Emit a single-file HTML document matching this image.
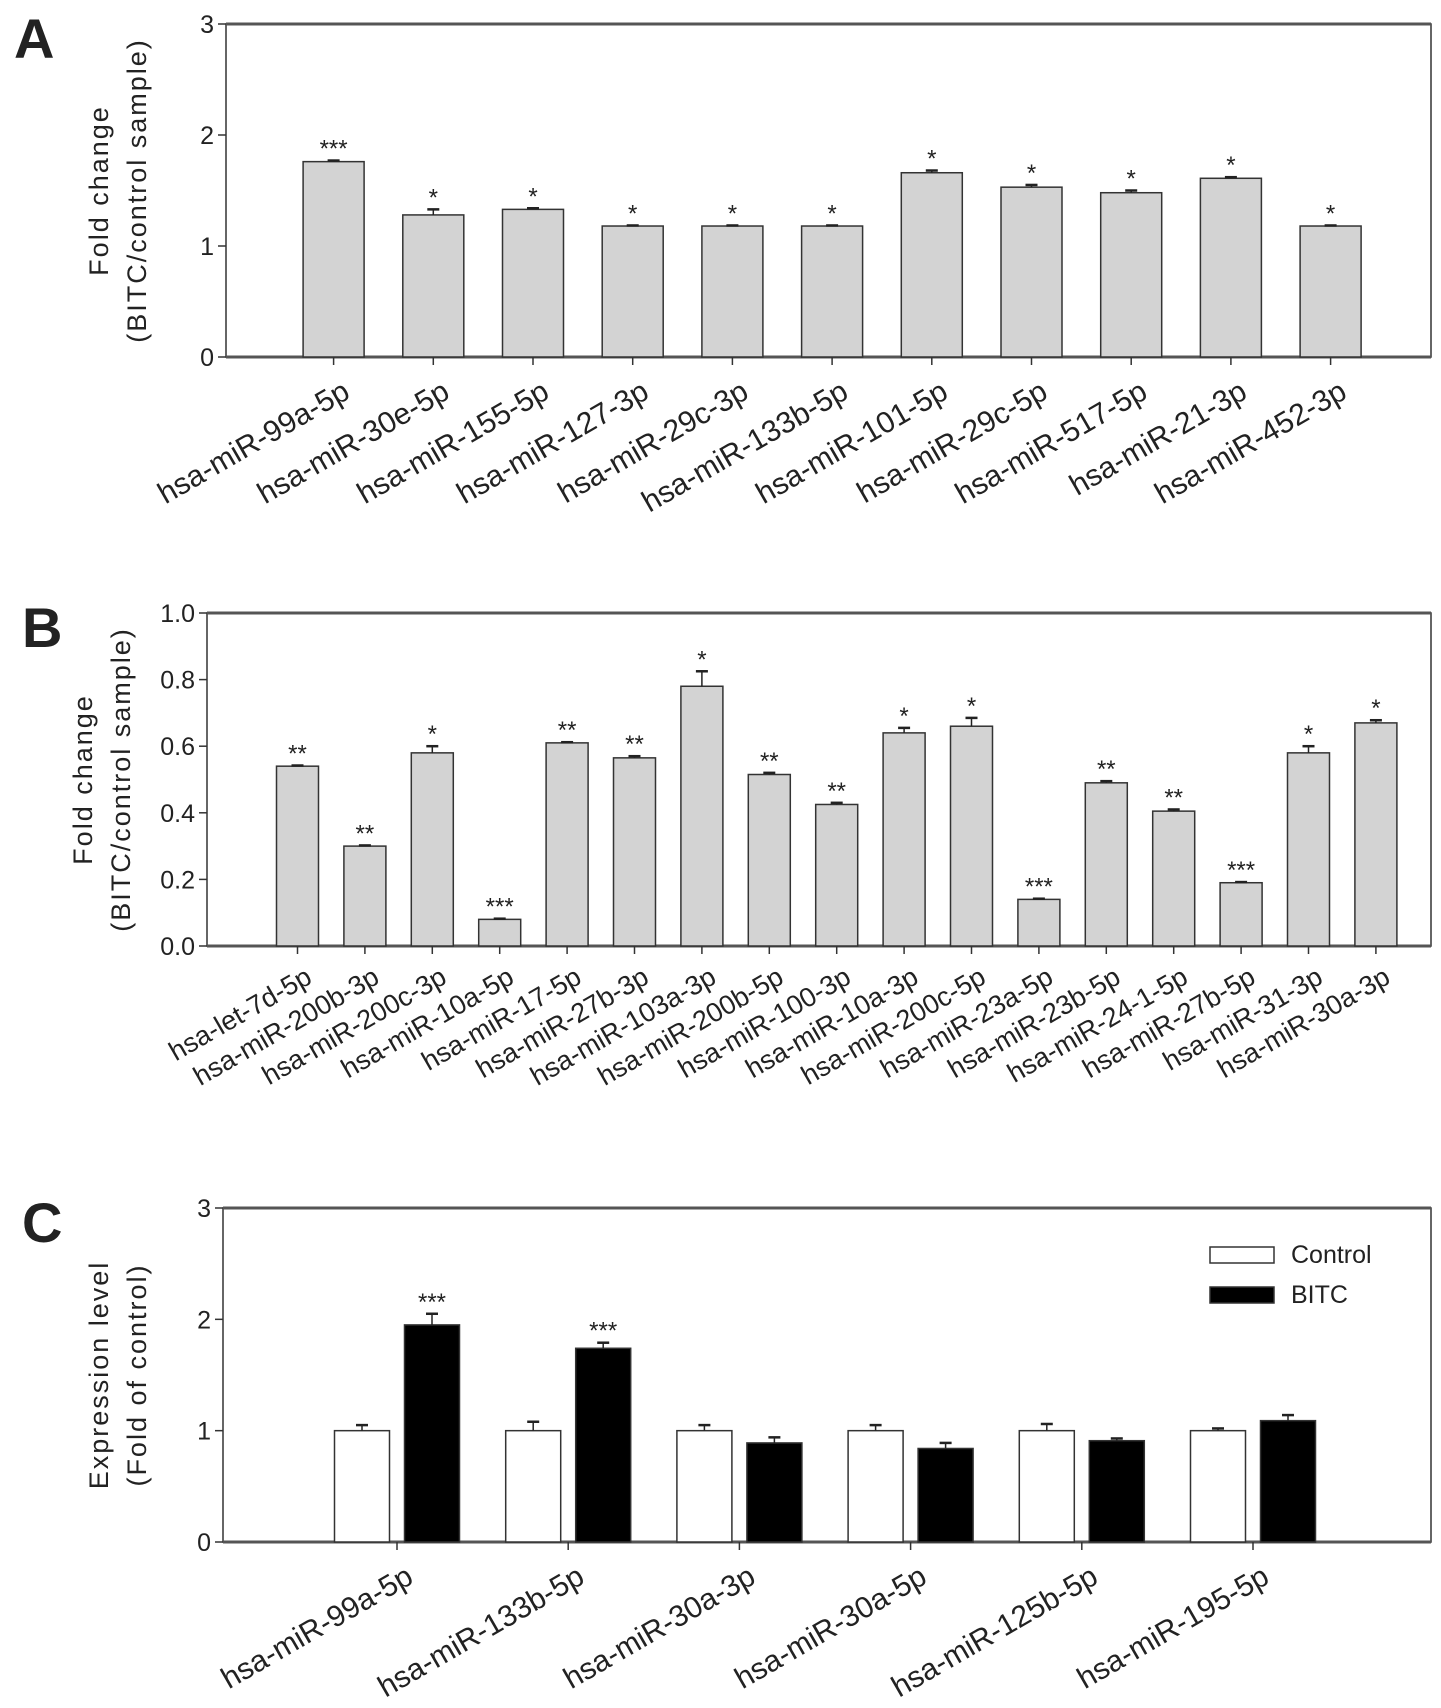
<!DOCTYPE html>
<html><head><meta charset="utf-8"><style>
body{margin:0;background:#fff;}
svg text{font-family:"Liberation Sans",Arial,sans-serif;fill:#222;}
</style></head><body>
<svg id="fig" width="1441" height="1703" xmlns="http://www.w3.org/2000/svg"></svg>
<script>
const catsA=["hsa-miR-99a-5p","hsa-miR-30e-5p","hsa-miR-155-5p","hsa-miR-127-3p","hsa-miR-29c-3p","hsa-miR-133b-5p","hsa-miR-101-5p","hsa-miR-29c-5p","hsa-miR-517-5p","hsa-miR-21-3p","hsa-miR-452-3p"];
const valsA=[1.76,1.28,1.33,1.18,1.18,1.18,1.66,1.53,1.48,1.61,1.18];
const errA=[0.01,0.05,0.01,0.005,0.005,0.005,0.02,0.02,0.02,0.01,0.005];
const starsA=["***","*","*","*","*","*","*","*","*","*","*"];
const ticksA=[0,1,2,3];
const catsB=["hsa-let-7d-5p","hsa-miR-200b-3p","hsa-miR-200c-3p","hsa-miR-10a-5p","hsa-miR-17-5p","hsa-miR-27b-3p","hsa-miR-103a-3p","hsa-miR-200b-5p","hsa-miR-100-3p","hsa-miR-10a-3p","hsa-miR-200c-5p","hsa-miR-23a-5p","hsa-miR-23b-5p","hsa-miR-24-1-5p","hsa-miR-27b-5p","hsa-miR-31-3p","hsa-miR-30a-3p"];
const valsB=[0.54,0.30,0.58,0.08,0.61,0.565,0.78,0.515,0.425,0.64,0.66,0.14,0.49,0.405,0.19,0.58,0.67];
const errB=[0.002,0.002,0.02,0.002,0.002,0.005,0.045,0.005,0.005,0.015,0.025,0.002,0.005,0.005,0.002,0.02,0.008];
const starsB=["**","**","*","***","**","**","*","**","**","*","*","***","**","**","***","*","*"];
const ticksB=["0.0","0.2","0.4","0.6","0.8","1.0"];
const catsC=["hsa-miR-99a-5p","hsa-miR-133b-5p","hsa-miR-30a-3p","hsa-miR-30a-5p","hsa-miR-125b-5p","hsa-miR-195-5p"];
const ctrlC=[1,1,1,1,1,1];
const ctrlErrC=[0.05,0.08,0.05,0.05,0.06,0.02];
const bitcC=[1.95,1.74,0.89,0.84,0.91,1.09];
const bitcErrC=[0.1,0.05,0.05,0.05,0.02,0.05];
const starsC=["***","***","","","",""];
const ticksC=[0,1,2,3];

const svg=document.getElementById('fig');
const NS="http://www.w3.org/2000/svg";
function mk(tag,attrs,parent){const e=document.createElementNS(NS,tag);for(const k in attrs)e.setAttribute(k,attrs[k]);(parent||svg).appendChild(e);return e;}

function panel(o){
  const g=mk('g',{});
  
  
  const y=v=>o.y1-(v-o.ymin)/(o.ymax-o.ymin)*(o.y1-o.y0);
  const L=mk('text',{x:o.letterX,y:o.y0+34,'font-size':56,'font-weight':'bold'},g);L.textContent=o.letter;
  
  
  const f=mk('rect',{x:o.x0,y:o.y0,width:o.x1-o.x0,height:o.y1-o.y0,fill:'none',stroke:'#333','stroke-width':1.5},g);
  
  
  mk('line',{x1:o.x0,x2:o.x1,y1:o.y0,y2:o.y0,stroke:'#555','stroke-width':3},g);
  mk('line',{x1:o.x0,x2:o.x1,y1:o.y1,y2:o.y1,stroke:'#555','stroke-width':3},g);
  o.ticks.forEach(t=>{const v=parseFloat(t);const yy=y(v);
    mk('line',{x1:o.x0-8,x2:o.x0,y1:yy,y2:yy,stroke:'#333','stroke-width':1.5},g);
    const tx=mk('text',{x:o.x0-12,y:yy+9,'font-size':25,'text-anchor':'end'},g);tx.textContent=t;
    
    
  });
  o.ytitle.forEach((s,i)=>{const cx=o.ytx+i*38,cy=(o.y0+o.y1)/2;
    const t=mk('text',{x:cx,y:cy,'font-size':27,'text-anchor':'middle','letter-spacing':'2',transform:`rotate(-90 ${cx} ${cy})`},g);t.textContent=s;
    
    
  });
  return {g,y};
}
function errbar(g,cx,top,e,y){const ty=y(e);mk('line',{x1:cx,x2:cx,y1:top,y2:ty,stroke:'#222','stroke-width':1.5},g);mk('line',{x1:cx-6,x2:cx+6,y1:ty,y2:ty,stroke:'#222','stroke-width':2.5},g);}
function xlabel(g,x,yb,s,fs){const t=mk('text',{x:x,y:yb,'font-size':fs,'text-anchor':'end',transform:`rotate(-30 ${x} ${yb})`},g);t.textContent=s;
  
  }
function star(g,x,yy,s){const t=mk('text',{x:x,y:yy,'font-size':24,'text-anchor':'middle',fill:'#444'},g);t.textContent=s;
  
  }

(function(){
  const o={name:'panel-a',letter:'A',letterX:14,x0:226,x1:1431,y0:24,y1:357,ymin:0,ymax:3,ticks:ticksA.map(String),ytitle:['Fold change','(BITC/control sample)'],ytx:108};
  const {g,y}=panel(o);
  const step=99.7,first=333.6,w=61;
  catsA.forEach((c,i)=>{const cx=first+i*step,top=y(valsA[i]);
    const r=mk('rect',{x:cx-w/2,y:top,width:w,height:y(0)-top,fill:'#d3d3d3',stroke:'#333','stroke-width':1.5},g);
    
    
    errbar(g,cx,top,valsA[i]+errA[i],y);
    star(g,cx,y(valsA[i]+errA[i])-4,starsA[i]);
    mk('line',{x1:cx,x2:cx,y1:o.y1,y2:o.y1+8,stroke:'#333','stroke-width':1.5},g);
    xlabel(g,cx+18,o.y1+40,c,30);
  });
})();
(function(){
  const o={name:'panel-b',letter:'B',letterX:22,x0:207,x1:1431,y0:613,y1:946,ymin:0,ymax:1,ticks:ticksB,ytitle:['Fold change','(BITC/control sample)'],ytx:92};
  const {g,y}=panel(o);
  const step=67.4,first=297.5,w=42;
  catsB.forEach((c,i)=>{const cx=first+i*step,top=y(valsB[i]);
    const r=mk('rect',{x:cx-w/2,y:top,width:w,height:y(0)-top,fill:'#d3d3d3',stroke:'#333','stroke-width':1.5},g);
    
    
    errbar(g,cx,top,valsB[i]+errB[i],y);
    star(g,cx,y(valsB[i]+errB[i])-4,starsB[i]);
    mk('line',{x1:cx,x2:cx,y1:o.y1,y2:o.y1+8,stroke:'#333','stroke-width':1.5},g);
    xlabel(g,cx+16,o.y1+36,c,27);
  });
})();
(function(){
  const o={name:'panel-c',letter:'C',letterX:22,x0:223,x1:1431,y0:1208,y1:1542,ymin:0,ymax:3,ticks:ticksC.map(String),ytitle:['Expression level','(Fold of control)'],ytx:108};
  const {g,y}=panel(o);
  const step=171.2,first=397,w=55,off=35;
  catsC.forEach((c,i)=>{const gx=first+i*step;
    [[ctrlC,ctrlErrC,'#fff',-off,'control'],[bitcC,bitcErrC,'#000',off,'bitc']].forEach(([v,e,fill,dx,nm])=>{
      const cx=gx+dx,top=y(v[i]);
      const r=mk('rect',{x:cx-w/2,y:top,width:w,height:y(0)-top,fill:fill,stroke:'#333','stroke-width':1.5},g);
      
      
      errbar(g,cx,top,v[i]+e[i],y);
    });
    if(starsC[i])star(g,gx+off,y(bitcC[i]+bitcErrC[i])-4,starsC[i]);
    mk('line',{x1:gx,x2:gx,y1:o.y1,y2:o.y1+8,stroke:'#333','stroke-width':1.5},g);
    xlabel(g,gx+18,o.y1+40,c,30);
  });
  const lg=mk('g',{},g);
  
  
  [['Control','#fff',1247],['BITC','#000',1287]].forEach(([t,f,yy])=>{
    mk('rect',{x:1210,y:yy,width:64,height:16,fill:f,stroke:'#333','stroke-width':1.5},lg);
    const tx=mk('text',{x:1291,y:yy+16,'font-size':25},lg);tx.textContent=t;
    
    
  });
})();
</script>
</body></html>
